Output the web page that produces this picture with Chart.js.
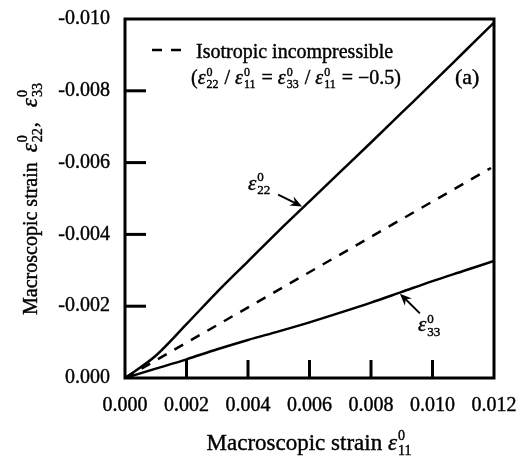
<!DOCTYPE html>
<html lang="en">
<head>
<meta charset="UTF-8">
<title>Macroscopic strain</title>
<script src="https://cdn.jsdelivr.net/npm/chart.js"></script>
<style>
  body { margin: 0; background: #fff; }
  canvas { display: block; }
</style>
</head>
<body>
<canvas id="strainChart" width="529" height="461"></canvas>
<script>
// macroscopic strain e11 along x, transverse responses e22 / e33
const strain11 = [0, 0.001, 0.002, 0.003, 0.004, 0.005, 0.006, 0.007, 0.008, 0.009, 0.010, 0.011, 0.012];
const strain22 = [0, -0.00062, -0.0015, -0.0024, -0.00325, -0.0041, -0.00492, -0.00574, -0.00656, -0.00739, -0.00822, -0.00906, -0.0099];
const strain33 = [0, -0.00026, -0.00052, -0.0008, -0.00106, -0.0013, -0.00155, -0.00182, -0.0021, -0.0024, -0.0027, -0.00298, -0.00326];

// isotropic incompressible reference line (ratio -0.5)
const isoX = [0, 0.0119];
const isoY = [0, -0.00585];

const xTicks = [0, 0.002, 0.004, 0.006, 0.008, 0.010, 0.012];
const yTicks = [0, -0.002, -0.004, -0.006, -0.008, -0.010];

const SERIF = '"Liberation Serif", "Times New Roman", serif';
const INK = 0.4; // slight stroke so the text looks as heavy as the scan

// draws text pieces; objects are epsilons with a superscript and subscript
function richText(ctx, x, y, parts, size, measureOnly, epsSize) {
    let cx = x;
    const es = epsSize || size;
    const put = (t, px, py) => {
        if (measureOnly) return;
        ctx.fillText(t, px, py);
        ctx.strokeText(t, px, py);
    };
    ctx.lineWidth = INK;
    parts.forEach(p => {
        if (typeof p === 'string') {
            ctx.font = size + 'px ' + SERIF;
            put(p, cx, y);
            cx += ctx.measureText(p).width;
        } else {
            ctx.font = 'italic ' + es + 'px ' + SERIF;
            put('ε', cx, y);
            cx += ctx.measureText('ε').width + 1;
            const s = Math.round(es * 0.62);
            ctx.font = s + 'px ' + SERIF;
            const w = Math.max(ctx.measureText(p.sup).width, ctx.measureText(p.sub).width);
            put(p.sup, cx, y - es * 0.42);
            put(p.sub, cx, y + es * 0.22);
            cx += w + 1;
        }
    });
    return cx - x;
}

function arrow(ctx, x0, y0, x1, y1) {
    const a = Math.atan2(y1 - y0, x1 - x0);
    const c = Math.cos(a), s = Math.sin(a);
    ctx.lineWidth = 2;
    ctx.beginPath();
    ctx.moveTo(x0, y0);
    ctx.lineTo(x1 - 7 * c, y1 - 7 * s);
    ctx.stroke();
    ctx.beginPath();
    ctx.moveTo(x1, y1);
    ctx.lineTo(x1 - 12 * c + 5 * s, y1 - 12 * s - 5 * c);
    ctx.lineTo(x1 - 8 * c, y1 - 8 * s);
    ctx.lineTo(x1 - 12 * c - 5 * s, y1 - 12 * s + 5 * c);
    ctx.closePath();
    ctx.fill();
}

const decorations = {
    id: 'decorations',
    afterDraw(chart) {
        const { ctx, chartArea: a, scales: { x, y } } = chart;
        ctx.save();
        ctx.strokeStyle = '#000';
        ctx.fillStyle = '#000';
        ctx.lineCap = 'butt';

        // frame
        ctx.lineWidth = 3;
        ctx.strokeRect(a.left, a.top, a.right - a.left, a.bottom - a.top);

        // inward ticks
        xTicks.slice(1, -1).forEach(v => {
            const px = x.getPixelForValue(v);
            ctx.beginPath();
            ctx.moveTo(px, a.bottom);
            ctx.lineTo(px, a.bottom - 18);
            ctx.stroke();
        });
        yTicks.slice(1, -1).forEach(v => {
            const py = y.getPixelForValue(v);
            ctx.beginPath();
            ctx.moveTo(a.left, py);
            ctx.lineTo(a.left + 21, py);
            ctx.stroke();
        });

        // legend
        ctx.lineWidth = 2.5;
        ctx.setLineDash([10, 9]);
        ctx.beginPath();
        ctx.moveTo(a.left + 27, a.top + 31);
        ctx.lineTo(a.left + 57, a.top + 31);
        ctx.stroke();
        ctx.setLineDash([]);
        ctx.textBaseline = 'alphabetic';
        richText(ctx, a.left + 71, a.top + 39, ['Isotropic incompressible'], 20);
        richText(ctx, a.left + 66, a.top + 65, ['(', { sup: '0', sub: '22' }, ' / ', { sup: '0', sub: '11' },
            ' = ', { sup: '0', sub: '33' }, ' / ', { sup: '0', sub: '11' }, ' = −0.5)'], 20);
        richText(ctx, a.right - 39, a.top + 65, ['(a)'], 22);

        // curve labels with arrows
        arrow(ctx, x.getPixelForValue(0.00498), y.getPixelForValue(-0.00511),
            x.getPixelForValue(0.00576), y.getPixelForValue(-0.00478));
        richText(ctx, x.getPixelForValue(0.0040), y.getPixelForValue(-0.00525), [{ sup: '0', sub: '22' }], 21);
        arrow(ctx, x.getPixelForValue(0.00959), y.getPixelForValue(-0.0018),
            x.getPixelForValue(0.00894), y.getPixelForValue(-0.00235));
        richText(ctx, x.getPixelForValue(0.00953), y.getPixelForValue(-0.0013), [{ sup: '0', sub: '33' }], 21);

        // axis titles
        const xParts = ['Macroscopic strain ', { sup: '0', sub: '11' }];
        const xw = richText(ctx, 0, 0, xParts, 23, true);
        richText(ctx, (a.left + a.right) / 2 - xw / 2, 450, xParts, 23);

        const yParts = ['Macroscopic strain  ', { sup: '0', sub: '22' }, ',   ', { sup: '0', sub: '33' }];
        const yw = richText(ctx, 0, 0, yParts, 20, true, 23);
        ctx.translate(37, (a.top + a.bottom) / 2);
        ctx.rotate(-Math.PI / 2);
        richText(ctx, -yw / 2, 0, yParts, 20, false, 23);
        ctx.restore();
    }
};

const tickFont = { family: SERIF, size: 20 };

new Chart(document.getElementById('strainChart').getContext('2d'), {
    type: 'scatter',
    data: {
        datasets: [{
            label: 'e22',
            data: strain11.map((v, i) => ({ x: v, y: strain22[i] })),
            showLine: true,
            cubicInterpolationMode: 'monotone',
            borderColor: '#000',
            borderWidth: 2.5,
            pointRadius: 0
        }, {
            label: 'e33',
            data: strain11.map((v, i) => ({ x: v, y: strain33[i] })),
            showLine: true,
            cubicInterpolationMode: 'monotone',
            borderColor: '#000',
            borderWidth: 2.5,
            pointRadius: 0
        }, {
            label: 'Isotropic incompressible',
            data: isoX.map((v, i) => ({ x: v, y: isoY[i] })),
            showLine: true,
            borderColor: '#000',
            borderWidth: 2.5,
            borderDash: [10, 9],
            pointRadius: 0
        }]
    },
    options: {
        responsive: false,
        animation: false,
        layout: { padding: { top: 16, right: 35, left: 0, bottom: 0 } },
        plugins: { legend: { display: false }, tooltip: { enabled: false } },
        scales: {
            x: {
                type: 'linear',
                min: 0,
                max: 0.012,
                afterBuildTicks: s => { s.ticks = xTicks.map(v => ({ value: v })); },
                afterFit: s => { s.height = 83; },
                grid: { display: false },
                border: { display: false },
                ticks: { font: tickFont, color: '#000', padding: 8, maxRotation: 0, autoSkip: false,
                    textStrokeColor: '#000', textStrokeWidth: INK,
                    callback: v => v.toFixed(3) }
            },
            y: {
                type: 'linear',
                min: -0.010,
                max: 0,
                reverse: true,
                afterBuildTicks: s => { s.ticks = yTicks.map(v => ({ value: v })); },
                afterFit: s => { s.width = 125; },
                grid: { display: false },
                border: { display: false },
                ticks: { font: tickFont, color: '#000', padding: 7, autoSkip: false,
                    textStrokeColor: '#000', textStrokeWidth: INK,
                    callback: v => v.toFixed(3) }
            }
        }
    },
    plugins: [decorations]
});
</script>
</body>
</html>
